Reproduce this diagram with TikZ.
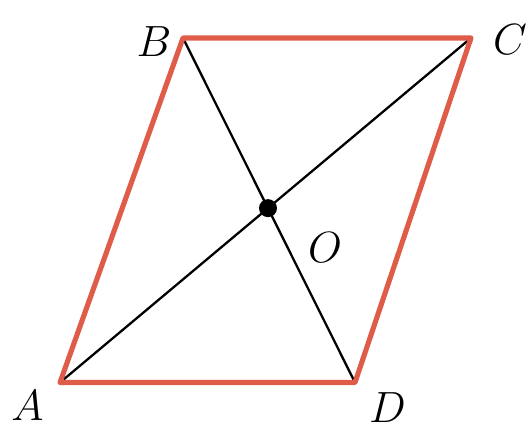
\documentclass[tikz,border=0pt]{standalone}
\usepackage{tikz}
\usetikzlibrary{calc}
\definecolor{sidered}{RGB}{222,92,72}

\begin{document}
\begin{tikzpicture}[line join=round,
    side/.style={draw=sidered, line width=2.9pt},
    diag/.style={draw=black, line width=1.3pt},
    vlabel/.style={font=\fontsize{27}{27}\selectfont}]
    \useasboundingbox (0,0) rectangle (10.64,8.58);
    % Vertices
    \coordinate (A) at (1.2,0.93);
    \coordinate (B) at (3.66,7.82);
    \coordinate (C) at (9.42,7.82);
    \coordinate (D) at (7.1,0.93);
    \coordinate (O) at (intersection of A--C and B--D);
    % Diagonals
    \draw[diag] (A) -- (C);
    \draw[diag] (B) -- (D);
    % Sides
    \draw[side] (A) -- (B) -- (C) -- (D) -- cycle;
    \fill (O) circle (0.18);
    % Labels
    \node[vlabel] (labA) at (0.55,0.47) {$A$};
    \node[vlabel] (labB) at (3.08,7.74) {$B$};
    \node[vlabel] (labC) at (10.2,7.78) {$C$};
    \node[vlabel] (labD) at (7.75,0.42) {$D$};
    \node[vlabel] (labO) at (6.5,3.62) {$O$};
\end{tikzpicture}
\end{document}
